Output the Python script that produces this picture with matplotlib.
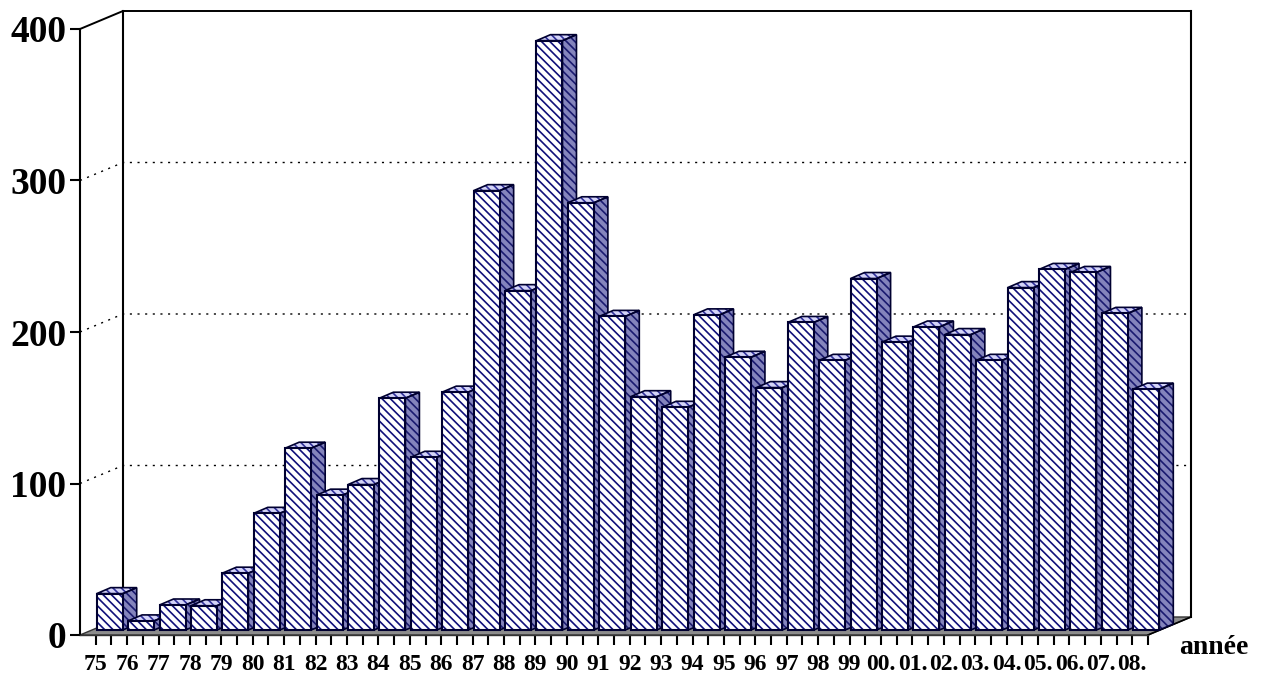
from matplotlib import pyplot as plt
from matplotlib.patches import Polygon

W, H = 1263, 673

years = ['75', '76', '77', '78', '79', '80', '81', '82', '83', '84', '85', '86',
         '87', '88', '89', '90', '91', '92', '93', '94', '95', '96', '97', '98', '99',
         '00.', '01.', '02.', '03.', '04.', '05.', '06.', '07.', '08.']
values = [24, 6, 16.5, 16, 37.5, 77, 120, 89, 96, 153, 114, 157,
          290, 224, 389, 282, 207, 154, 147, 208, 180, 160, 203, 178, 232,
          190, 200, 195, 178, 226, 238, 236, 209, 159]
y_ticks = [0, 100, 200, 300, 400]

plt.rcParams['font.family'] = ['Liberation Serif', 'DejaVu Serif']
plt.rcParams['hatch.linewidth'] = 1.2

fig = plt.figure(figsize=(W / 100, H / 100), dpi=100)
ax = fig.add_axes([80 / W, 1 - 635 / H, 1068 / W, 606 / H])
ax.set_xlim(-0.5, 33.5)
ax.set_ylim(0, 400)

# pixel sizes turned into data units
px = 34 / 1068
py = 400 / 606
wall_dx = 43 * px
wall_dy = 18 * py
bar_dx = 14 * px
bar_dy = 6 * py
bar_w = 26 * px
shift_x = 14 * px
shift_y = 5 * py
xl, xr = -0.5, 33.5

# floor
ax.add_patch(Polygon([(xl, 0), (xr, 0), (xr + wall_dx, wall_dy), (xl + wall_dx, wall_dy)],
                     closed=True, fc='#8c8c8c', ec='#333333', lw=1, clip_on=False, zorder=1))

# back wall
for v in y_ticks[1:]:
    ls = '-' if v == 400 else (0, (1.5, 4))
    ax.plot([xl, xl + wall_dx, xr + wall_dx], [v, v + wall_dy, v + wall_dy],
            color='black', lw=1.4 if v == 400 else 1, ls=ls, clip_on=False, zorder=1)
ax.plot([xl + wall_dx] * 2, [wall_dy, 400 + wall_dy], color='black', lw=1.5, clip_on=False, zorder=1)
ax.plot([xr + wall_dx] * 2, [wall_dy, 400 + wall_dy], color='black', lw=1.5, clip_on=False, zorder=1)
ax.plot([xr, xr + wall_dx], [0, wall_dy], color='black', lw=1.2, clip_on=False, zorder=1)

# bars, front face + side + top
for i, v in enumerate(values):
    x0 = i + shift_x - bar_w / 2
    x1 = x0 + bar_w
    y0 = shift_y
    y1 = v + shift_y
    z = 3 + i
    side = [(x1, y0), (x1 + bar_dx, y0 + bar_dy), (x1 + bar_dx, y1 + bar_dy), (x1, y1)]
    top = [(x0, y1), (x1, y1), (x1 + bar_dx, y1 + bar_dy), (x0 + bar_dx, y1 + bar_dy)]
    ax.add_patch(Polygon(side, closed=True, fc='#8484bc', ec='#1a1a70', hatch='\\\\\\\\', lw=0, zorder=z))
    ax.add_patch(Polygon(top, closed=True, fc='#d4d4f8', ec='#30309a', hatch='\\\\\\\\', lw=0, zorder=z))
    ax.add_patch(Polygon(side, closed=True, fill=False, ec='#000030', lw=1.2, zorder=z))
    ax.add_patch(Polygon(top, closed=True, fill=False, ec='#000030', lw=1.2, zorder=z))
    ax.bar(i + shift_x, v, width=bar_w, bottom=y0, color='white', edgecolor='#10107a',
           hatch='\\\\\\\\', lw=0, zorder=z)
    ax.bar(i + shift_x, v, width=bar_w, bottom=y0, fill=False, edgecolor='#000030',
           lw=1.5, zorder=z)

for p in ax.patches:
    p.set_clip_on(False)

for s in ['top', 'right']:
    ax.spines[s].set_visible(False)
ax.spines['left'].set_linewidth(1.5)
ax.spines['left'].set_zorder(60)
ax.spines['bottom'].set_linewidth(1)
ax.spines['bottom'].set_color('#333333')
ax.spines['bottom'].set_zorder(60)

ax.set_yticks(y_ticks)
ax.set_yticklabels([str(v) for v in y_ticks], fontsize=27, fontweight='bold')
ax.tick_params(axis='y', length=7, width=1.5, pad=3)
ax.set_xticks(range(len(years)))
ax.set_xticklabels(years, fontsize=17, fontweight='bold')
ax.set_xticks([i + 0.5 for i in range(len(years))], minor=True)
ax.tick_params(axis='x', which='both', length=7, width=1.5, pad=7)

ax.text(1214 / W, 1 - 648 / H, 'année', transform=fig.transFigure, fontsize=20,
        fontweight='bold', ha='center', va='center')

fig.savefig('out.png', dpi=100)
